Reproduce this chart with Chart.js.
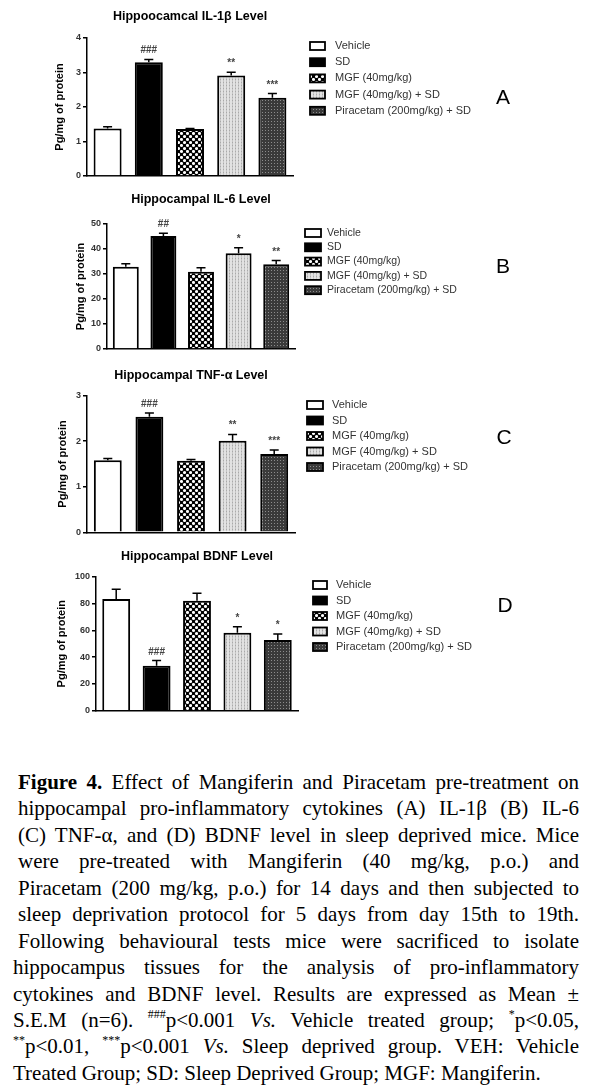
<!DOCTYPE html>
<html>
<head>
<meta charset="utf-8">
<script src="https://cdn.jsdelivr.net/npm/chart.js@4.4.0/dist/chart.umd.min.js"></script>
<style>
  body { margin: 0; background: #fff; width: 593px; height: 1087px; position: relative; overflow: hidden; }
  canvas.panel { position: absolute; left: 0; }
  #caption { position: absolute; left: 13px; top: 769px; width: 566px;
    font-family: "Liberation Serif", "Times New Roman", serif; font-size: 21px; line-height: 26.45px; color: #000; }
  #caption div { text-align: justify; text-align-last: justify; height: 26.45px; }
  #caption div.ind { margin-left: 5px; }
  #caption div.last { text-align-last: left; }
  #caption sup { font-size: 12px; line-height: 0; vertical-align: 9px; }
</style>
</head>
<body>
<canvas id="chartA" class="panel" width="593" height="185" style="top:0px"></canvas>
<canvas id="chartB" class="panel" width="593" height="175" style="top:185px"></canvas>
<canvas id="chartC" class="panel" width="593" height="185" style="top:360px"></canvas>
<canvas id="chartD" class="panel" width="593" height="190" style="top:545px"></canvas>

<div id="caption">
  <div class="ind"><b>Figure 4.</b> Effect of Mangiferin and Piracetam pre-treatment on</div>
  <div class="ind">hippocampal pro-inflammatory cytokines (A) IL-1β (B) IL-6</div>
  <div class="ind">(C) TNF-α, and (D) BDNF level in sleep deprived mice. Mice</div>
  <div class="ind">were pre-treated with Mangiferin (40 mg/kg, p.o.) and</div>
  <div class="ind">Piracetam (200 mg/kg, p.o.) for 14 days and then subjected to</div>
  <div class="ind">sleep deprivation protocol for 5 days from day 15th to 19th.</div>
  <div class="ind">Following behavioural tests mice were sacrificed to isolate</div>
  <div>hippocampus tissues for the analysis of pro-inflammatory</div>
  <div>cytokines and BDNF level. Results are expressed as Mean ±</div>
  <div>S.E.M (n=6). <sup>###</sup>p&lt;0.001 <i>Vs.</i> Vehicle treated group; <sup>*</sup>p&lt;0.05,</div>
  <div><sup>**</sup>p&lt;0.01, <sup>***</sup>p&lt;0.001 <i>Vs.</i> Sleep deprived group. VEH: Vehicle</div>
  <div class="last">Treated Group; SD: Sleep Deprived Group; MGF: Mangiferin.</div>
</div>

<script>
// --- Data
const groups = ['Vehicle', 'SD', 'MGF (40mg/kg)', 'MGF (40mg/kg) + SD', 'Piracetam (200mg/kg) + SD'];

const il1bMean = [1.38, 3.30, 1.36, 2.91, 2.27];
const il1bSem  = [0.05, 0.08, 0.02, 0.10, 0.12];
const il1bSig  = ['', '###', '', '**', '***'];

const il6Mean = [32.9, 45.2, 30.9, 38.3, 33.9];
const il6Sem  = [1.2, 1.1, 1.6, 2.2, 1.5];
const il6Sig  = ['', '##', '', '*', '**'];

const tnfMean = [1.58, 2.54, 1.57, 2.01, 1.72];
const tnfSem  = [0.04, 0.08, 0.03, 0.14, 0.09];
const tnfSig  = ['', '###', '', '**', '***'];

const bdnfMean = [83.4, 33.6, 82.1, 58.2, 52.8];
const bdnfSem  = [7.2, 3.8, 5.5, 4.5, 4.4];
const bdnfSig  = ['', '###', '', '*', '*'];

const yTicksA = [0, 1, 2, 3, 4];
const yTicksB = [0, 10, 20, 30, 40, 50];
const yTicksC = [0, 1, 2, 3];
const yTicksD = [0, 20, 40, 60, 80, 100];

const SANS = '"Liberation Sans", Arial, sans-serif';

// --- Fill patterns (GraphPad style)
function makePattern(kind) {
  const c = document.createElement('canvas');
  const x = c.getContext('2d');
  if (kind === 'check') {
    c.width = c.height = 6;
    x.fillStyle = '#000'; x.fillRect(0, 0, 6, 6);
    x.fillStyle = '#fff';
    [[1.5, 1.5], [4.5, 4.5]].forEach(([a, b]) => { x.beginPath(); x.arc(a, b, 1.55, 0, Math.PI * 2); x.fill(); });
  } else if (kind === 'light') {
    c.width = c.height = 3;
    x.fillStyle = '#e2e2e2'; x.fillRect(0, 0, 3, 3);
    x.fillStyle = '#c6c6c6'; x.fillRect(1, 0, 1, 3);
    x.fillStyle = '#a9a9a9'; x.fillRect(1, 1, 1, 1);
  } else {
    c.width = c.height = 3;
    x.fillStyle = '#3a3a3a'; x.fillRect(0, 0, 3, 3);
    x.fillStyle = '#8c8c8c'; x.fillRect(1, 1, 1, 1);
  }
  return x.createPattern(c, 'repeat');
}
const fills = ['#ffffff', '#000000', makePattern('check'), makePattern('light'), makePattern('dark')];

// error bars, significance marks, legend and panel letter
function makeExtras(cfg) {
  return {
    id: 'extras',
    afterDatasetsDraw(chart) {
      const ctx = chart.ctx;
      const y = chart.scales.y;
      const bars = chart.getDatasetMeta(0).data;
      ctx.save();
      ctx.strokeStyle = '#000';
      ctx.lineWidth = 1.5;
      ctx.fillStyle = '#444';
      ctx.font = 'bold 10px ' + SANS;
      ctx.textAlign = 'center';
      ctx.textBaseline = 'alphabetic';
      bars.forEach((bar, i) => {
        const top = y.getPixelForValue(cfg.mean[i] + cfg.sem[i]);
        ctx.beginPath();
        ctx.moveTo(bar.x, bar.y);
        ctx.lineTo(bar.x, top);
        ctx.moveTo(bar.x - 4.5, top);
        ctx.lineTo(bar.x + 4.5, top);
        ctx.stroke();
        if (cfg.sig[i]) ctx.fillText(cfg.sig[i], bar.x, top - 6);
      });

      // legend
      const lg = cfg.legend;
      ctx.font = lg.font + 'px ' + SANS;
      ctx.textAlign = 'left';
      ctx.textBaseline = 'middle';
      groups.forEach((g, i) => {
        const cy = lg.y0 + i * lg.step;
        ctx.fillStyle = fills[i];
        ctx.fillRect(lg.boxX, cy - 4, lg.boxW, 8);
        ctx.lineWidth = 1.8;
        ctx.strokeRect(lg.boxX, cy - 4, lg.boxW, 8);
        ctx.fillStyle = '#333';
        ctx.fillText(g, lg.textX, cy);
      });

      // panel letter
      ctx.fillStyle = '#000';
      ctx.font = '21px ' + SANS;
      ctx.textAlign = 'center';
      ctx.fillText(cfg.letter, cfg.letterX, cfg.letterY);
      ctx.restore();
    }
  };
}

function makeChart(id, cfg) {
  return new Chart(document.getElementById(id), {
    type: 'bar',
    data: {
      labels: groups,
      datasets: [{
        data: cfg.mean,
        backgroundColor: fills,
        borderColor: '#000',
        borderWidth: 2,
        barPercentage: cfg.barPct,
        categoryPercentage: 1
      }]
    },
    options: {
      responsive: false,
      animation: false,
      devicePixelRatio: 1,
      layout: { padding: { left: cfg.padL, right: cfg.padR, top: 0, bottom: cfg.padB } },
      plugins: {
        legend: { display: false },
        tooltip: { enabled: false },
        title: {
          display: true, text: cfg.title, fullSize: false, color: '#000',
          font: { family: SANS, size: 12.5, weight: 'bold', lineHeight: 1.2 },
          padding: { top: cfg.titleTop, bottom: cfg.titleBottom }
        }
      },
      scales: {
        x: {
          offset: true,
          grid: { display: false },
          ticks: { display: false },
          border: { color: '#000', width: 1.5 },
          afterFit(s) { s.height = 0; }
        },
        y: {
          min: 0,
          max: cfg.ticks[cfg.ticks.length - 1],
          afterBuildTicks(s) { s.ticks = cfg.ticks.map(v => ({ value: v })); },
          ticks: { color: '#333', padding: 2, font: { family: SANS, size: 9, weight: 'bold' } },
          grid: { drawOnChartArea: false, drawTicks: true, tickLength: 4, color: '#000', lineWidth: 1.5 },
          border: { color: '#000', width: 1.5 },
          title: {
            display: true, text: 'Pg/mg of protein', color: '#000', padding: 0,
            font: { family: SANS, size: 11, weight: 'bold', lineHeight: 1.2 }
          },
          afterFit(s) { s.width = cfg.axisW; }
        }
      }
    },
    plugins: [makeExtras(cfg)]
  });
}

makeChart('chartA', {
  title: 'Hippoocamcal IL-1β Level', mean: il1bMean, sem: il1bSem, sig: il1bSig, ticks: yTicksA,
  padL: 53.4, axisW: 33.6, padR: 300, padB: 9, titleTop: 9.5, titleBottom: 13.5, barPct: 0.68,
  legend: { boxX: 310, boxW: 15, textX: 335, y0: 46, step: 16.2, font: 11 },
  letter: 'A', letterX: 503, letterY: 98
});

makeChart('chartB', {
  title: 'Hippocampal IL-6 Level', mean: il6Mean, sem: il6Sem, sig: il6Sig, ticks: yTicksB,
  padL: 74.4, axisW: 32.6, padR: 298, padB: 11, titleTop: 7.5, titleBottom: 16.5, barPct: 0.69,
  legend: { boxX: 305, boxW: 16, textX: 327, y0: 48, step: 14.3, font: 10.5 },
  letter: 'B', letterX: 503, letterY: 82
});

makeChart('chartC', {
  title: 'Hippocampal TNF-α Level', mean: tnfMean, sem: tnfSem, sig: tnfSig, ticks: yTicksC,
  padL: 56.4, axisW: 30.6, padR: 298, padB: 12.7, titleTop: 8.5, titleBottom: 12.2, barPct: 0.67,
  legend: { boxX: 307, boxW: 16, textX: 332, y0: 45, step: 15.5, font: 11 },
  letter: 'C', letterX: 504, letterY: 78
});

makeChart('chartD', {
  title: 'Hippocampal BDNF Level', mean: bdnfMean, sem: bdnfSem, sig: bdnfSig, ticks: yTicksD,
  padL: 55.4, axisW: 40.6, padR: 295, padB: 24.3, titleTop: 4.5, titleBottom: 12.2, barPct: 0.69,
  legend: { boxX: 313, boxW: 14, textX: 336, y0: 40, step: 15.5, font: 11 },
  letter: 'D', letterX: 505, letterY: 61
});
</script>
</body>
</html>
